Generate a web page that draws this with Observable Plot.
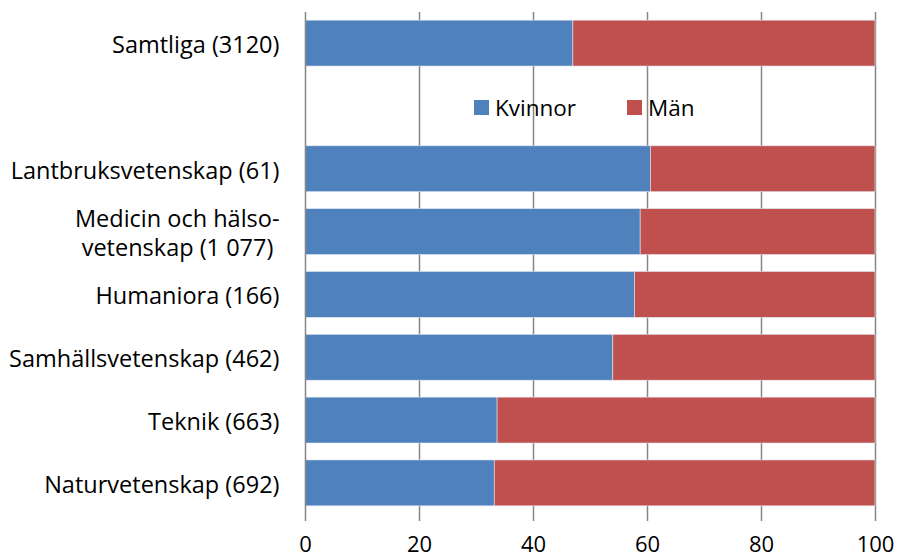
<!DOCTYPE html>
<html>
<head>
<meta charset="utf-8">
<script src="https://cdn.jsdelivr.net/npm/d3@7"></script>
<script src="https://cdn.jsdelivr.net/npm/@observablehq/plot@0.6"></script>
<style>
  html, body { margin: 0; padding: 0; background: #fff; }
  #wrap { position: relative; width: 897px; height: 560px; font-family: "Open Sans", sans-serif; }
  #legend { position: absolute; left: 474px; top: 92px; display: flex; align-items: center; font-size: 22.5px; color: #000; }
  #legend .item { display: flex; align-items: center; margin-right: 51px; }
  #legend .sw { width: 15px; height: 15px; margin-right: 6px; }
</style>
</head>
<body>
<div id="wrap">
  <div id="chart"></div>
  <div id="legend"></div>
</div>
<script>
const categories = [
  "Samtliga (3120)",
  "",
  "Lantbruksvetenskap (61)",
  "Medicin och hälso-\nvetenskap (1 077) ",
  "Humaniora (166)",
  "Samhällsvetenskap (462)",
  "Teknik (663)",
  "Naturvetenskap (692)"
];
const barCategories = [
  "Samtliga (3120)",
  "Lantbruksvetenskap (61)",
  "Medicin och hälso-\nvetenskap (1 077) ",
  "Humaniora (166)",
  "Samhällsvetenskap (462)",
  "Teknik (663)",
  "Naturvetenskap (692)"
];
const kvinnor = [47.0, 60.6, 58.8, 57.8, 54.0, 33.7, 33.2];
const man =     [53.0, 39.4, 41.2, 42.2, 46.0, 66.3, 66.8];
const seriesNames = ["Kvinnor", "Män"];
const seriesColors = ["#4F81BD", "#C0504D"];
const xTicks = [0, 20, 40, 60, 80, 100];

const rows = [];
barCategories.forEach((c, i) => {
  rows.push({cat: c, series: "Kvinnor", value: kvinnor[i]});
  rows.push({cat: c, series: "Män", value: man[i]});
});

const chart = Plot.plot({
  width: 897,
  height: 560,
  marginLeft: 305,
  marginRight: 22,
  marginTop: 12,
  marginBottom: 46,
  style: {fontFamily: "'Open Sans', sans-serif", fontSize: "22px", color: "#000", background: "#fff", overflow: "visible"},
  x: {domain: [0, 100], ticks: xTicks},
  y: {domain: categories, paddingInner: 0.27, paddingOuter: 0.13, round: false},
  color: {domain: seriesNames, range: seriesColors},
  marks: [
    Plot.ruleX(xTicks.filter(d => d > 0), {stroke: "#868686", strokeWidth: 1.5}),
    Plot.barX(rows, Plot.stackX({x: "value", y: "cat", fill: "series", order: seriesNames, stroke: "#dfe6ef", strokeWidth: 0.6})),
    Plot.ruleX([0], {stroke: "#868686", strokeWidth: 1.5}),
    Plot.axisX({ticks: xTicks, tickSize: 7, tickPadding: 15, stroke: "#868686", strokeWidth: 1.5, fontSize: 22, label: null}),
    Plot.ruleY([0], {frameAnchor: "bottom", stroke: "#868686", strokeWidth: 1.5}),
    Plot.axisY({tickSize: 0, tickPadding: 26, fontSize: 23.5, label: null, lineHeight: 1.23})
  ]
});
document.getElementById("chart").appendChild(chart);

const legend = document.getElementById("legend");
seriesNames.forEach((n, i) => {
  const it = document.createElement("div");
  it.className = "item";
  const sw = document.createElement("div");
  sw.className = "sw";
  sw.style.background = seriesColors[i];
  const t = document.createElement("span");
  t.textContent = n;
  it.appendChild(sw); it.appendChild(t);
  legend.appendChild(it);
});
</script>
</body>
</html>
